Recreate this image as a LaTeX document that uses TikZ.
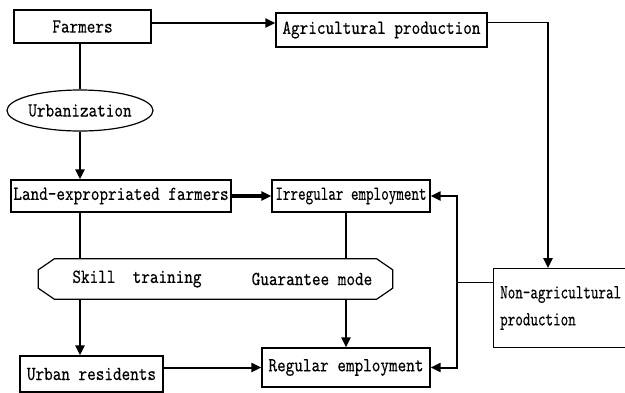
\documentclass[tikz,border=0pt]{standalone}
\usepackage{fontspec}
\setmainfont{lmmono10-regular.otf}[FakeStretch=0.82,FakeBold=0.25]
\newfontfamily\narrowmono{lmmono10-regular.otf}[FakeStretch=0.72,FakeBold=0.25]
\usetikzlibrary{arrows.meta,shapes.geometric}

\begin{document}
\begin{tikzpicture}[x=1pt,y=-1pt,
  box/.style={draw,line width=1.2pt,inner sep=0pt,font=\fontsize{20}{27}\selectfont},
  txt/.style={inner sep=0pt,font=\fontsize{20}{27}\selectfont},
  arr/.style={-{Triangle[length=10pt,width=9pt]}},
  link/.style={line width=2.4pt}]

  \useasboundingbox (0,0) rectangle (625,392);

  %kasser
	\node[box,minimum width=137,minimum height=33] (farmers) at (82.5,26.5) {Farmers};
	\node[box,minimum width=211,minimum height=34] (agri) at (381.5,30) {Agricultural production};
	\node[box,ellipse,minimum width=144,minimum height=41] (urban) at (80,110.5) {Urbanization};
	\node[box,minimum width=220,minimum height=32] (land) at (121,196) {Land-expropriated farmers};
	\node[box,minimum width=158,minimum height=32] (irregular) at (351,196) {\narrowmono Irregular employment};
	\node[box,minimum width=143,minimum height=36] (urbanres) at (91.5,374) {Urban residents};
	\node[box,minimum width=168,minimum height=39] (regular) at (346,367.5) {Regular employment};
	\node[box,minimum width=134,minimum height=79,anchor=north west] (nonagri) at (493,268) {};
	\node[txt,anchor=north west,align=left] (nonagritxt) at (500,286) {\narrowmono Non-agricultural\\\narrowmono production};

  %ottekant
	\node[minimum width=354,minimum height=40,inner sep=0pt] (guide) at (215.5,279) {};
	\draw[line width=1.2pt] ([xshift=16pt]guide.north west) -- ([xshift=-16pt]guide.north east)
		-- ([yshift=-11pt]guide.north east) -- ([yshift=11pt]guide.south east)
		-- ([xshift=-16pt]guide.south east) -- ([xshift=16pt]guide.south west)
		-- ([yshift=11pt]guide.south west) -- ([yshift=-11pt]guide.north west) -- cycle;
	\node[txt] (skill) at (137,279) {Skill\ \ training};
	\node[txt] (mode) at (312,279) {Guarantee mode};

  %pile
	\draw[arr,line width=2pt] (farmers.east |- 0,23) -- (agri.west |- 0,23);
	\draw[line width=1pt] (agri.east |- 0,22) -- (548,22);
	\draw[arr,link] (548,22) -- (548,268);
	\draw[link] (farmers.south -| urban) -- (urban.north);
	\draw[arr,link] (urban.south) -- (urban.south |- land.north);
	\draw[arr,line width=4pt] (land.east) -- (irregular.west);
	\draw[link] (land.south -| urban) -- (guide.north -| urban);
	\draw[arr,link] (guide.south -| urban) -- (urbanres.north -| urban);
	\draw[link] (irregular.south -| regular) -- (guide.north -| regular);
	\draw[arr,link] (guide.south -| regular) -- (regular.north);
	\draw[arr,line width=2pt] (urbanres.east |- regular) -- (regular.west);

  %tilbage
	\coordinate (fb) at (457,282);
	\draw[line width=1pt] (nonagri.west |- fb) -- (fb);
	\draw[arr,line width=2pt] (fb) |- (irregular.east);
	\draw[arr,line width=2pt] (fb) |- (regular.east);

\end{tikzpicture}
\end{document}
